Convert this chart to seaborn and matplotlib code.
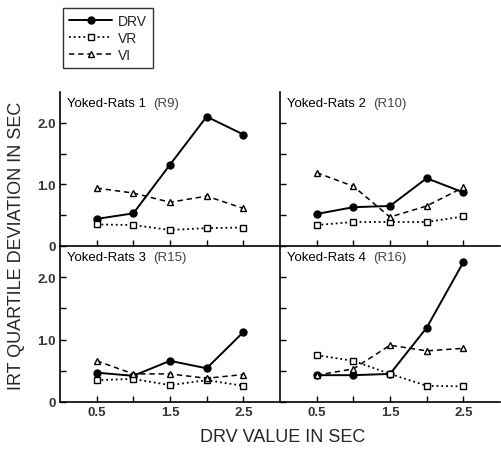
import numpy as np
import pandas as pd
import matplotlib
matplotlib.use("Agg")
import matplotlib.pyplot as plt
from matplotlib.lines import Line2D
from matplotlib.ticker import FixedLocator
import seaborn as sns

# DRV values (sec) on the x axis
drv_values = [0.5, 1.0, 1.5, 2.0, 2.5]

panel_titles = ["Yoked-Rats 1", "Yoked-Rats 2", "Yoked-Rats 3", "Yoked-Rats 4"]
panel_ids = ["(R9)", "(R10)", "(R15)", "(R16)"]

# IRT quartile deviation (sec), one list per panel
drv_series = [
    [0.44, 0.53, 1.32, 2.10, 1.81],
    [0.52, 0.63, 0.65, 1.10, 0.87],
    [0.47, 0.42, 0.66, 0.54, 1.12],
    [0.43, 0.43, 0.45, 1.19, 2.24],
]
vr_series = [
    [0.35, 0.34, 0.26, 0.29, 0.30],
    [0.34, 0.39, 0.39, 0.39, 0.48],
    [0.35, 0.37, 0.27, 0.35, 0.26],
    [0.75, 0.66, 0.45, 0.26, 0.25],
]
vi_series = [
    [0.94, 0.86, 0.71, 0.81, 0.61],
    [1.19, 0.97, 0.47, 0.65, 0.95],
    [0.66, 0.45, 0.45, 0.38, 0.44],
    [0.43, 0.53, 0.91, 0.82, 0.86],
]

schedules = ["DRV", "VR", "VI"]
styles = {
    "DRV": dict(linestyle="-", marker="o", markerfacecolor="black", linewidth=1.4, markersize=5),
    "VR": dict(linestyle=":", marker="s", markerfacecolor="white", linewidth=1.3, markersize=4.5),
    "VI": dict(linestyle=(0, (3.5, 2.5)), marker="^", markerfacecolor="white", linewidth=1.1, markersize=4.5),
}

rows = []
for p in range(4):
    for name, series in zip(schedules, [drv_series, vr_series, vi_series]):
        for x, y in zip(drv_values, series[p]):
            rows.append({"panel": p, "schedule": name, "drv": x, "irt": y})
df = pd.DataFrame(rows)

sns.set_theme(style="ticks")
plt.rcParams["font.family"] = ["Liberation Sans", "DejaVu Sans"]

fig = plt.figure(figsize=(5.01, 4.56), dpi=100)
W, H = 501, 456
boxes = [
    (60, 93, 220, 154), (280, 93, 220, 154),
    (60, 247, 220, 156), (280, 247, 220, 156),
]

for p, (x0, y0, w, h) in enumerate(boxes):
    ax = fig.add_axes([x0 / W, 1 - (y0 + h) / H, w / W, h / H])
    sub = df[df["panel"] == p]
    for name in schedules:
        d = sub[sub["schedule"] == name]
        sns.lineplot(data=d, x="drv", y="irt", ax=ax, color="black",
                     markeredgecolor="black", markeredgewidth=1.0,
                     legend=False, **styles[name])
    ax.set_xlim(0, 3.0)
    ax.set_ylim(0, 2.5)
    ax.set_xlabel("")
    ax.set_ylabel("")
    ax.spines["top"].set_visible(False)
    ax.spines["right"].set_visible(False)
    for s in ["left", "bottom"]:
        ax.spines[s].set_linewidth(1.2)
        ax.spines[s].set_color("black")
    ax.xaxis.set_major_locator(FixedLocator([0.5, 1.5, 2.5]))
    ax.xaxis.set_minor_locator(FixedLocator([1.0, 2.0]))
    ax.yaxis.set_major_locator(FixedLocator([0, 1.0, 2.0]))
    ax.yaxis.set_minor_locator(FixedLocator([0.5, 1.5]))
    ax.tick_params(which="both", direction="in", length=4, width=1, color="black",
                   labelsize=9.5, pad=3, labelcolor="#333333")
    if p < 2:
        ax.tick_params(axis="x", labelbottom=False)
    if p % 2 == 1:
        ax.tick_params(axis="y", labelleft=False)
    else:
        ax.set_yticklabels(["0", "1.0", "2.0"])
    ax.set_xticklabels(["0.5", "1.5", "2.5"])
    for lab in ax.get_xticklabels() + ax.get_yticklabels():
        lab.set_fontweight("bold")
    ax.text(0.03, 0.965, panel_titles[p], transform=ax.transAxes,
            ha="left", va="top", fontsize=9.5, color="black")
    ax.text(0.425, 0.965, panel_ids[p], transform=ax.transAxes,
            ha="left", va="top", fontsize=9.5, color="#444444")
    ax.patch.set_alpha(0)

handles = [Line2D([], [], color="black", markeredgecolor="black", **styles[n]) for n in schedules]
leg = fig.legend(handles, schedules, loc="upper left",
                 bbox_to_anchor=(63 / W, 1 - 9 / H), frameon=True, fancybox=False,
                 fontsize=10, handlelength=3.1, borderpad=0.45, labelspacing=0.2,
                 handletextpad=0.4, borderaxespad=0)
leg.get_frame().set_edgecolor("black")
leg.get_frame().set_linewidth(1.0)

fig.text(17 / W, 1 - 246 / H, "IRT QUARTILE DEVIATION IN SEC", rotation=90,
         ha="center", va="center", fontsize=13)
fig.text(283 / W, 1 - 438 / H, "DRV VALUE IN SEC", ha="center", va="center",
         fontsize=13)

fig.savefig("out.png", dpi=100, facecolor="white")
